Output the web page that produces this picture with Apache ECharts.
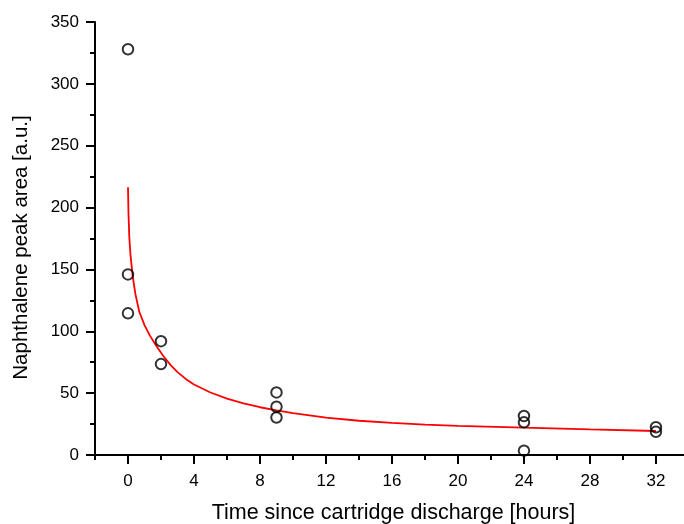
<!DOCTYPE html>
<html>
<head>
<meta charset="utf-8">
<script src="https://cdn.jsdelivr.net/npm/echarts@6/dist/echarts.min.js"></script>
<style>html,body{margin:0;padding:0;background:#fff}#c{width:684px;height:524px}</style>
</head>
<body>
<div id="c"></div>
<script>
var pointsX = [0, 0, 0, 2, 2, 9, 9, 9, 24, 24, 24, 32, 32];
var pointsY = [328, 146, 114.5, 92, 73.5, 50.6, 39, 30.3, 31.5, 26.4, 3.5, 22.4, 18.8];
var fitX = [0, 0.03, 0.08, 0.15, 0.28, 0.45, 0.68, 1.0, 1.33, 1.7, 2.14, 2.6, 3.0, 3.5, 4.0, 5.0, 6.0, 7.0, 8.0, 9.0, 10, 12, 14, 16, 18, 20, 24, 28, 32];
var fitY = [216.5, 195, 176, 162, 145, 130, 116, 105, 96.5, 88.5, 80, 72.5, 67, 61.5, 57, 50.5, 45.5, 41.8, 38.6, 36, 33.8, 30.2, 27.7, 25.9, 24.6, 23.6, 22.1, 20.7, 19.4];
var xMajorTicks = [0, 4, 8, 12, 16, 20, 24, 28, 32];
var xMinorTicks = [-2, 2, 6, 10, 14, 18, 22, 26, 30];
var yMin = 0, yMax = 350, yInterval = 50;
var xMin = -2, xMax = 33.7;

var scatterData = pointsX.map(function (x, i) { return [x, pointsY[i]]; });
var fitData = fitX.map(function (x, i) { return [x, fitY[i]]; });
var font = "'Liberation Sans', Arial, sans-serif";

var chart = echarts.init(document.getElementById('c'));
chart.setOption({
  animation: false,
  backgroundColor: '#fff',
  grid: { left: 95, right: 0, top: 22, bottom: 69, containLabel: false, outerBoundsMode: 'none' },
  xAxis: [{
    type: 'value', min: xMin, max: xMax,
    name: 'Time since cartridge discharge [hours]',
    nameLocation: 'middle', nameGap: 47,
    nameTextStyle: { fontFamily: font, fontSize: 21.5, color: '#000', padding: [0, 0, 0, 8] },
    axisLine: { show: true, onZero: false, lineStyle: { color: '#000', width: 2 } },
    axisTick: { show: true, customValues: xMajorTicks, length: 9, inside: false, lineStyle: { color: '#000', width: 2 } },
    axisLabel: { show: true, customValues: xMajorTicks, margin: 18, fontFamily: font, fontSize: 17, color: '#000' },
    splitLine: { show: false }
  }, {
    type: 'value', min: xMin, max: xMax, position: 'bottom',
    axisLine: { show: false },
    axisTick: { show: true, customValues: xMinorTicks, length: 5, lineStyle: { color: '#000', width: 2 } },
    axisLabel: { show: false },
    splitLine: { show: false }
  }],
  yAxis: {
    type: 'value', min: yMin, max: yMax, interval: yInterval,
    name: 'Naphthalene peak area [a.u.]',
    nameLocation: 'middle', nameGap: 63,
    nameTextStyle: { fontFamily: font, fontSize: 20.5, color: '#000', padding: [0, 18, 0, 0] },
    axisLine: { show: true, onZero: false, lineStyle: { color: '#000', width: 2 } },
    axisTick: { show: true, length: 9, lineStyle: { color: '#000', width: 2 } },
    minorTick: { show: true, splitNumber: 2, length: 5, lineStyle: { color: '#000', width: 2 } },
    axisLabel: { margin: 16, fontFamily: font, fontSize: 17, color: '#000' },
    splitLine: { show: false }
  },
  series: [{
    type: 'line', data: fitData, smooth: false, showSymbol: false, symbol: 'none',
    lineStyle: { color: '#ff0000', width: 1.8 }, z: 2
  }, {
    type: 'scatter', data: scatterData, symbol: 'circle', symbolSize: 10.5,
    itemStyle: { color: 'rgba(0,0,0,0)', borderColor: '#000', borderWidth: 2 }, z: 3
  }]
});
</script>
</body>
</html>
